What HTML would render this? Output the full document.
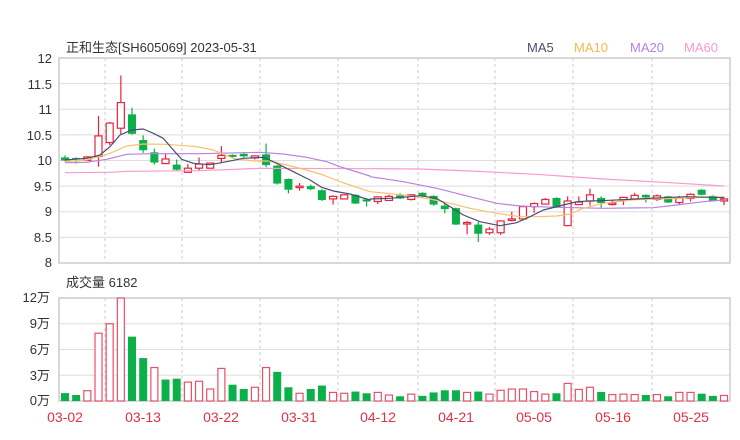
<!DOCTYPE html>
<html><head><meta charset="utf-8"><style>
body{margin:0;background:#fff;width:740px;height:440px;overflow:hidden}
svg{display:block;font-family:"Liberation Sans","Noto Sans CJK SC",sans-serif}
</style></head><body>
<svg id="s" width="740" height="440" xmlns="http://www.w3.org/2000/svg">
<text x="66" y="52" font-size="13" fill="#333">正和生态[SH605069] 2023-05-31</text>
<text x="527" y="52" font-size="13" fill="#4b4e6e">MA5</text>
<text x="574" y="52" font-size="13" fill="#f5b94f">MA10</text>
<text x="630" y="52" font-size="13" fill="#b583e0">MA20</text>
<text x="684" y="52" font-size="13" fill="#f79ad0">MA60</text>
<g font-size="13" fill="#333" text-anchor="end">
<text x="52" y="63">12</text><text x="52" y="89">11.5</text><text x="52" y="114">11</text><text x="52" y="140">10.5</text><text x="52" y="165">10</text><text x="52" y="191">9.5</text><text x="52" y="216">9</text><text x="52" y="242">8.5</text><text x="52" y="267">8</text>
<text x="50" y="302">12万</text><text x="50" y="328">9万</text><text x="50" y="354">6万</text><text x="50" y="380">3万</text><text x="50" y="405">0万</text>
</g>
<text x="66" y="287" font-size="13" fill="#333">成交量 6182</text>
<g font-size="14" fill="#e0304a" text-anchor="middle">
<text x="65" y="422">03-02</text><text x="143" y="422">03-13</text><text x="221" y="422">03-22</text><text x="299" y="422">03-31</text><text x="378" y="422">04-12</text><text x="456" y="422">04-21</text><text x="534" y="422">05-05</text><text x="613" y="422">05-16</text><text x="691" y="422">05-25</text>
</g>
<g id="g"></g>
</svg>
<script>
const g=document.getElementById('g');let h='';
const py=p=>263-(p-8)*51.25, vy=v=>401-v*8.58;
// grid
[12,11.5,11,10.5,10,9.5,9,8.5].forEach(p=>h+=`<line x1="59" x2="730" y1="${py(p)}" y2="${py(p)}" stroke="#ddd"/>`);
[12,9,6,3].forEach(v=>h+=`<line x1="59" x2="730" y1="${vy(v)}" y2="${vy(v)}" stroke="#ddd"/>`);
[105,182,260,338,418,495,573,652].forEach(x=>{h+=`<line x1="${x}" x2="${x}" y1="58" y2="263" stroke="#ccc" stroke-dasharray="3,3"/><line x1="${x}" x2="${x}" y1="298" y2="401" stroke="#ccc" stroke-dasharray="3,3"/>`});
h+=`<rect x="59" y="58" width="671" height="205" fill="none" stroke="#ccc" stroke-width="1.5"/><rect x="59" y="298" width="671" height="103" fill="none" stroke="#ccc" stroke-width="1.5"/>`;
// O,C,H,L
const d=[[10.06,10,10.1,9.98],[10.05,10.03,10.06,9.94],[10,10.07,10.08,9.99],[10.08,10.48,10.87,9.88],[10.35,10.73,10.75,10.3],[10.63,11.13,11.66,10.5],[10.9,10.52,11.03,10.5],[10.4,10.2,10.49,10.15],[10.16,9.96,10.23,9.92],[9.94,10.03,10.13,9.93],[9.92,9.82,10.02,9.8],[9.77,9.85,9.93,9.76],[9.85,9.93,10.06,9.8],[9.85,9.95,9.96,9.84],[10.04,10.1,10.28,9.96],[10.11,10.07,10.12,10.05],[10.13,10.08,10.15,10.06],[10.05,10.09,10.1,10.02],[10.12,9.91,10.33,9.87],[9.9,9.55,9.91,9.53],[9.64,9.43,9.65,9.36],[9.49,9.5,9.56,9.41],[9.5,9.44,9.53,9.42],[9.42,9.23,9.44,9.21],[9.25,9.3,9.32,9.14],[9.25,9.33,9.34,9.24],[9.33,9.16,9.34,9.15],[9.24,9.2,9.25,9.1],
[9.2,9.29,9.3,9.15],[9.22,9.3,9.33,9.21],[9.32,9.26,9.36,9.25],[9.24,9.33,9.34,9.22],[9.37,9.31,9.38,9.27],[9.31,9.14,9.32,9.12],[9.12,9.05,9.2,8.97],[9.07,8.75,9.08,8.74],[8.78,8.79,8.82,8.56],[8.75,8.57,8.8,8.41],[8.59,8.66,8.7,8.55],[8.59,8.82,8.83,8.55],[8.84,8.86,9.0,8.81],[8.86,9.1,9.11,8.85],[9.1,9.16,9.18,8.98],[9.15,9.24,9.27,9.14],[9.27,9.09,9.28,9.08],[8.73,9.21,9.3,8.72],[9.14,9.19,9.3,9.13],[9.21,9.33,9.45,9.12],[9.27,9.17,9.3,9.08],[9.16,9.17,9.24,9.12],[9.23,9.28,9.29,9.13],[9.25,9.32,9.37,9.24],[9.33,9.28,9.34,9.18],[9.24,9.31,9.34,9.21],[9.3,9.18,9.31,9.17],[9.18,9.27,9.31,9.15],[9.26,9.34,9.36,9.2],[9.43,9.33,9.44,9.32],[9.31,9.21,9.32,9.2],[9.21,9.25,9.26,9.13]];
const v=[[.92,0],[.7,0],[1.2,1],[7.9,1],[9,1],[12,1],[7.5,0],[5,0],[3.9,1],[2.5,0],[2.6,0],[2.2,1],[2.3,1],[1.4,1],[3.8,1],[1.9,0],[1.4,0],[1.6,1],[3.9,1],[3.4,0],[1.6,0],[.9,1],[1.4,0],[1.8,0],[1,1],[.9,1],[1.1,0],[.9,0],
[1,1],[.7,1],[.55,0],[.8,1],[.6,0],[1,0],[1.25,0],[1.25,0],[1,1],[1.1,0],[.8,1],[1.25,1],[1.4,1],[1.4,1],[1.1,1],[.8,1],[.9,0],[2.05,1],[1.35,1],[1.6,1],[1.05,0],[.75,1],[.8,1],[.75,1],[.7,0],[.75,1],[.55,0],[1,1],[1,1],[.85,0],[.6,0],[.65,1]];
const R='#e8223c',G='#0bb04b';
d.forEach((c,i)=>{const x=65+i*11.17;const[o,cl,hi,lo]=c;const up=cl>=o;const col=up?R:G;
h+=`<line x1="${x}" x2="${x}" y1="${py(hi)}" y2="${py(lo)}" stroke="${col}" stroke-width="1.2"/>`;
const t=py(Math.max(o,cl)),b=py(Math.min(o,cl));const hh=Math.max(b-t,1.5);
h+=up?`<rect x="${x-3.5}" y="${t}" width="7" height="${hh}" fill="#fff" stroke="${col}" stroke-width="1.2"/>`:`<rect x="${x-4}" y="${t}" width="8" height="${hh}" fill="${col}"/>`;
const[vv,u]=v[i];const vt=vy(vv);
h+=u?`<rect x="${x-3.5}" y="${vt}" width="7" height="${401-vt}" fill="#fff" stroke="#e8506a" stroke-width="1.2"/>`:`<rect x="${x-4}" y="${vt}" width="8" height="${401-vt}" fill="${G}"/>`;});
function pl(a,b,col){let p=a.map(q=>[q[0]/3,50+q[1]/3]).concat(b.map(q=>[370+q[0]/3,50+q[1]/3]));
h+=`<polyline fill="none" stroke="${col}" stroke-width="1.2" stroke-linejoin="round" points="${p.map(q=>q.join(',')).join(' ')}"/>`;}
pl([[1110,356],[780,355],[600,362],[380,364],[330,367],[195,368]].reverse(),[[0,356],[150,357],[300,363],[500,373],[700,387],[900,398],[1063,408]],'#f79ad0');
pl([[195,338],[260,337],[320,328],[380,313],[450,311],[600,311],[780,307],[850,312],[920,322],[980,335],[1020,350],[1110,378]],[[0,380],[100,395],[200,415],[300,440],[380,460],[450,468],[560,472],[700,475],[850,473],[920,465],[1000,455],[1063,450]],'#b583e0');
pl([[195,335],[260,330],[330,310],[380,288],[430,282],[500,283],[590,290],[640,300],[700,325],[760,333],[810,333],[860,345],[920,360],[970,375],[1020,395],[1110,425]],[[0,425],[100,435],[180,447],[240,460],[300,475],[380,490],[450,500],[500,500],[560,498],[600,492],[640,475],[700,460],[780,450],[860,447],[1063,440]],'#f5c26b');
pl([[195,330],[260,325],[300,315],[330,290],[360,255],[395,240],[430,237],[460,250],[490,265],[520,300],[545,328],[580,340],[630,344],[680,335],[730,325],[790,322],[830,340],[880,365],[930,390],[965,412],[1000,423],[1050,432],[1110,450]],[[0,447],[60,445],[120,440],[150,437],[200,445],[240,470],[280,495],[330,515],[390,527],[440,518],[480,500],[520,480],[580,465],[620,455],[660,453],[720,451],[800,447],[880,443],[950,440],[1063,443]],'#4b4e6e');
g.innerHTML=h;
</script>
</body></html>
